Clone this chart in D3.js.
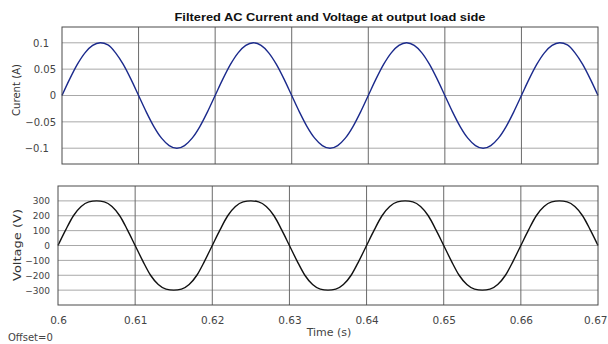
<!DOCTYPE html>
<html>
<head>
<meta charset="utf-8">
<script src="https://cdn.jsdelivr.net/npm/d3@7"></script>
<style>
  html, body { margin: 0; padding: 0; background: #fff; }
  svg { display: block; }
  .tick-label { font-family: "DejaVu Sans", sans-serif; fill: #444; }
</style>
</head>
<body>
<svg id="chart"></svg>
<script>
// sampled every 1 ms, starting at t = 0.6 s
const tStart = 0.6;
const tStep = 0.001;

const current = [
  0, 0.031, 0.059, 0.081, 0.095, 0.100, 0.096, 0.081, 0.059, 0.031,
  0, -0.031, -0.059, -0.081, -0.095, -0.100, -0.095, -0.081, -0.059, -0.031,
  0, 0.031, 0.059, 0.081, 0.095, 0.100, 0.095, 0.081, 0.059, 0.031,
  0, -0.031, -0.059, -0.081, -0.095, -0.100, -0.095, -0.081, -0.059, -0.031,
  0, 0.031, 0.059, 0.081, 0.095, 0.100, 0.095, 0.081, 0.059, 0.031,
  0, -0.031, -0.059, -0.081, -0.095, -0.100, -0.095, -0.081, -0.059, -0.031,
  0, 0.031, 0.059, 0.081, 0.095, 0.100, 0.096, 0.081, 0.059, 0.031,
  0
];

const voltage = [
  0, 105, 200, 262, 293, 300, 293, 262, 200, 105,
  0, -105, -200, -262, -293, -300, -293, -262, -200, -105,
  0, 105, 200, 262, 293, 300, 293, 262, 200, 105,
  0, -105, -200, -262, -293, -300, -293, -262, -200, -105,
  0, 105, 200, 262, 293, 300, 293, 262, 200, 105,
  0, -105, -200, -262, -293, -300, -293, -262, -200, -105,
  0, 105, 200, 262, 293, 300, 293, 262, 200, 105,
  0
];

const timeTicks = [0.6, 0.61, 0.62, 0.63, 0.64, 0.65, 0.66, 0.67];
const currentTicks = [-0.1, -0.05, 0, 0.05, 0.1];
const voltageTicks = [-300, -200, -100, 0, 100, 200, 300];

const W = 608, H = 344;
const svg = d3.select("#chart").attr("width", W).attr("height", H);

function panel(opts) {
  const x = d3.scaleLinear().domain([0.6, 0.67]).range([opts.left, opts.right]);
  const y = d3.scaleLinear().domain(opts.domain).range([opts.bottom, opts.top]);
  const g = svg.append("g");

  // horizontal grid
  g.append("g").selectAll("line").data(opts.ticks).enter().append("line")
    .attr("x1", opts.left).attr("x2", opts.right)
    .attr("y1", d => y(d)).attr("y2", d => y(d))
    .attr("stroke", "#a8a8a8").attr("stroke-width", 1);

  // vertical grid
  g.append("g").selectAll("line").data(timeTicks.slice(1, -1)).enter().append("line")
    .attr("x1", d => x(d)).attr("x2", d => x(d))
    .attr("y1", opts.top).attr("y2", opts.bottom)
    .attr("stroke", "#6a6a6a").attr("stroke-width", 1);

  // y axis labels
  const yAxis = g.append("g")
    .attr("transform", `translate(${opts.left},0)`)
    .call(d3.axisLeft(y).tickValues(opts.ticks).tickSize(0).tickPadding(opts.pad).tickFormat(opts.fmt));
  yAxis.select(".domain").remove();
  yAxis.selectAll("text").attr("class", "tick-label")
    .style("font-size", opts.fs + "px")
    .attr("dx", d => opts.shift ? opts.shift(d) : 0);

  if (opts.xLabels) {
    const xAxis = g.append("g")
      .attr("transform", `translate(0,${opts.bottom})`)
      .call(d3.axisBottom(x).tickValues(timeTicks).tickSize(0).tickPadding(12).tickFormat(d3.format("")));
    xAxis.select(".domain").remove();
    xAxis.selectAll("text").attr("class", "tick-label").style("font-size", "10.5px");
    // keep the last label inside the figure
    xAxis.selectAll("text").filter(d => d === 0.67)
      .attr("text-anchor", "end").attr("dx", W - 1 - opts.right);
  }

  // the signal
  const line = d3.line()
    .x((d, i) => x(tStart + i * tStep))
    .y(d => y(d))
    .curve(d3.curveMonotoneX);
  g.append("path").datum(opts.data)
    .attr("d", line)
    .attr("fill", "none")
    .attr("stroke", opts.color)
    .attr("stroke-width", 1.4);

  // box
  g.append("rect")
    .attr("x", opts.left).attr("y", opts.top)
    .attr("width", opts.right - opts.left).attr("height", opts.bottom - opts.top)
    .attr("fill", "none").attr("stroke", "#4a4a4a").attr("stroke-width", 1);

  // rotated axis title
  g.append("text")
    .attr("transform", `translate(${opts.labelX},${opts.labelY}) rotate(-90)`)
    .attr("text-anchor", "middle")
    .attr("textLength", opts.labelLen)
    .attr("lengthAdjust", "spacingAndGlyphs")
    .style("font-family", "DejaVu Sans, sans-serif")
    .style("font-size", opts.labelFs + "px")
    .attr("fill", "#333")
    .text(opts.label);
}

panel({
  left: 62, right: 598, top: 27, bottom: 164,
  domain: [-0.13, 0.13], ticks: currentTicks, data: current,
  color: "#1b2a8c", fs: 10, pad: 6,
  fmt: d => d3.format("")(d),
  shift: d => Math.abs(Math.abs(d) - 0.1) < 1e-9 ? -7 : 0,
  label: "Curent (A)", labelX: 20, labelY: 90, labelLen: 52, labelFs: 11
});

panel({
  left: 58, right: 598, top: 186, bottom: 305,
  domain: [-400, 400], ticks: voltageTicks, data: voltage,
  color: "#111", fs: 9, pad: 8,
  fmt: d3.format(""),
  xLabels: true,
  label: "Voltage (V)", labelX: 21, labelY: 245, labelLen: 72, labelFs: 11
});

svg.append("text")
  .attr("x", 330).attr("y", 20.5)
  .attr("text-anchor", "middle")
  .attr("textLength", 311)
  .attr("lengthAdjust", "spacingAndGlyphs")
  .style("font-family", "Liberation Sans, Arial, sans-serif")
  .style("font-weight", "bold")
  .style("font-size", "10.5px")
  .attr("fill", "#111")
  .text("Filtered AC Current and Voltage at output load side");

svg.append("text")
  .attr("x", 329).attr("y", 336)
  .attr("text-anchor", "middle")
  .style("font-family", "DejaVu Sans, sans-serif")
  .style("font-size", "11px")
  .attr("fill", "#444")
  .text("Time (s)");

svg.append("text")
  .attr("x", 8).attr("y", 341)
  .style("font-family", "DejaVu Sans, sans-serif")
  .style("font-size", "10px")
  .attr("fill", "#444")
  .text("Offset=0");
</script>
</body>
</html>
